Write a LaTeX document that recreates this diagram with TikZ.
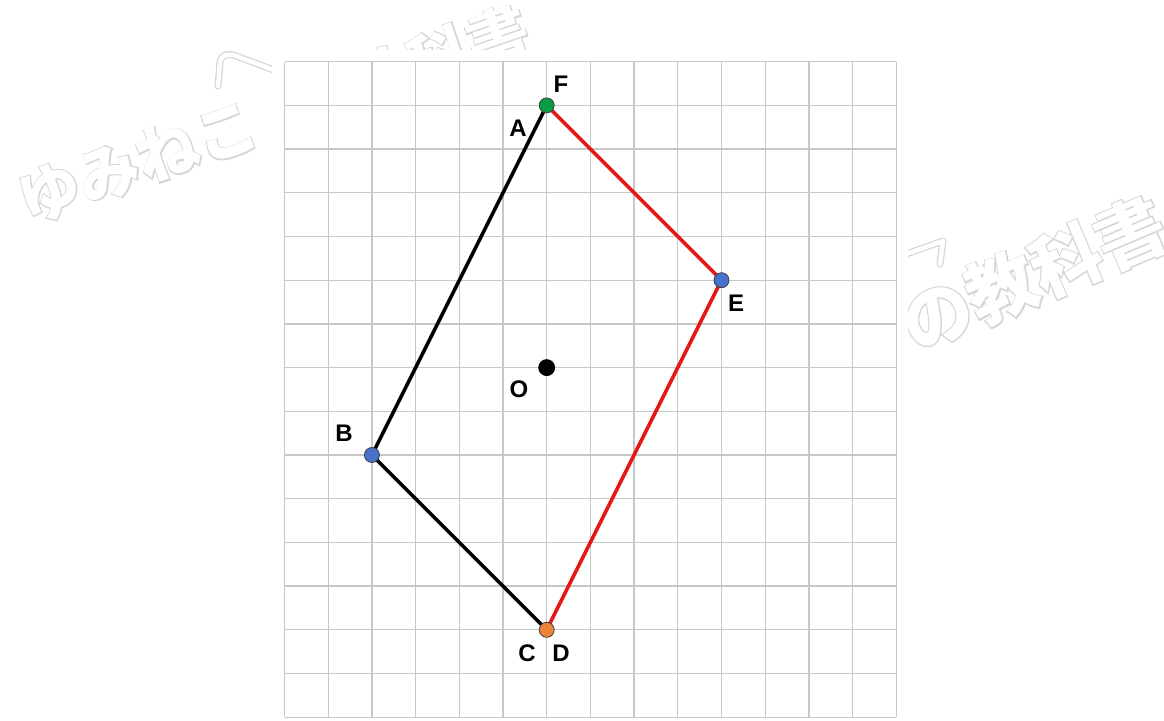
\documentclass[tikz,border=0pt]{standalone}
\usepackage{fontspec}
\setmainfont{Liberation Sans}
\newfontfamily\wmbold[FakeBold=3.5]{Noto Sans CJK JP}
\newfontfamily\wmplain{Noto Sans CJK JP}
\definecolor{segred}{RGB}{228,22,22}
\definecolor{ptgreen}{RGB}{10,155,70}
\definecolor{ptblue}{RGB}{72,112,205}
\definecolor{ptorange}{RGB}{235,130,55}
\definecolor{gridgray}{RGB}{200,200,200}
\definecolor{wmgray}{RGB}{214,214,214}
\begin{document}
\begin{tikzpicture}[x=1pt,y=-1pt,
  gridline/.style={draw=gridgray,line width=1.3pt},
  seg/.style={line width=3.6pt,line cap=round},
  dot/.style={circle,draw=black!75,line width=0.8pt,minimum size=15pt,inner sep=0pt},
  lab/.style={font=\fontsize{24}{28}\selectfont\bfseries,inner sep=0pt},
  wmout/.style={text=wmgray,inner sep=0pt,rotate=#1},
  wmin/.style={text=white,inner sep=0pt,rotate=#1},
  wmdeco/.style={line width=#1,line cap=round,line join=round}]
\useasboundingbox (0,0) rectangle (1164,720);
% watermark, left copy
\node[wmout=19,font=\wmbold\bfseries\fontsize{62}{62}\selectfont] (wmLo) at (274.1,114.8) {ゆみねこ\hspace{40pt}の教科書};
\node[wmin=19,font=\wmplain\bfseries\fontsize{62}{62}\selectfont] (wmLi) at (274.1,114.8) {ゆみねこ\hspace{40pt}の教科書};
\draw[wmdeco=7pt,wmgray] (218,86) -- (220,62) .. controls (222,54) and (228,53) .. (236,56) -- (290,76);
\draw[wmdeco=4.5pt,white] (218,86) -- (220,62) .. controls (222,54) and (228,53) .. (236,56) -- (290,76);
% watermark, right copy
\node[wmout=23,font=\wmbold\bfseries\fontsize{70}{70}\selectfont] (wmRo) at (886.4,336.5) {ゆみねこ\hspace{40pt}の教科書};
\node[wmin=23,font=\wmplain\bfseries\fontsize{70}{70}\selectfont] (wmRi) at (886.4,336.5) {ゆみねこ\hspace{40pt}の教科書};
\draw[wmdeco=7pt,wmgray] (895,258) -- (943,241) -- (940,264);
\draw[wmdeco=4.5pt,white] (895,258) -- (943,241) -- (940,264);
% white field and grid
\fill[white] (272,50) rectangle (908,720);
\foreach \i in {0,...,14} \draw[gridline] ({284.5+43.7*\i},61.7) -- ++(0,655.5);
\foreach \j in {0,...,15} \draw[gridline] (284.5,{61.7+43.7*\j}) -- ++(611.8,0);
% points
\coordinate (A) at (546.7,105.4);
\coordinate (E) at (721.5,280.2);
\coordinate (B) at (371.9,455.0);
\coordinate (C) at (546.7,629.8);
\coordinate (O) at (546.7,367.6);
% segments
\draw[seg,black] (A) -- (B) -- (C);
\draw[seg,segred] (A) -- (E) -- (C);
% dots
\node[dot,fill=ptgreen] (dA) at (A) {};
\node[dot,fill=ptblue] (dE) at (E) {};
\node[dot,fill=ptblue] (dB) at (B) {};
\node[dot,fill=ptorange] (dC) at (C) {};
\node[dot,fill=black,draw=black,minimum size=16pt] (dO) at (O) {};
% labels
\node[lab] (lF) at (561,84) {F};
\node[lab] (lA) at (518,128) {A};
\node[lab] (lE) at (736,303) {E};
\node[lab] (lO) at (519,389) {O};
\node[lab] (lB) at (344,433) {B};
\node[lab] (lC) at (527,653) {C};
\node[lab] (lD) at (561,653) {D};
\end{tikzpicture}
\end{document}
